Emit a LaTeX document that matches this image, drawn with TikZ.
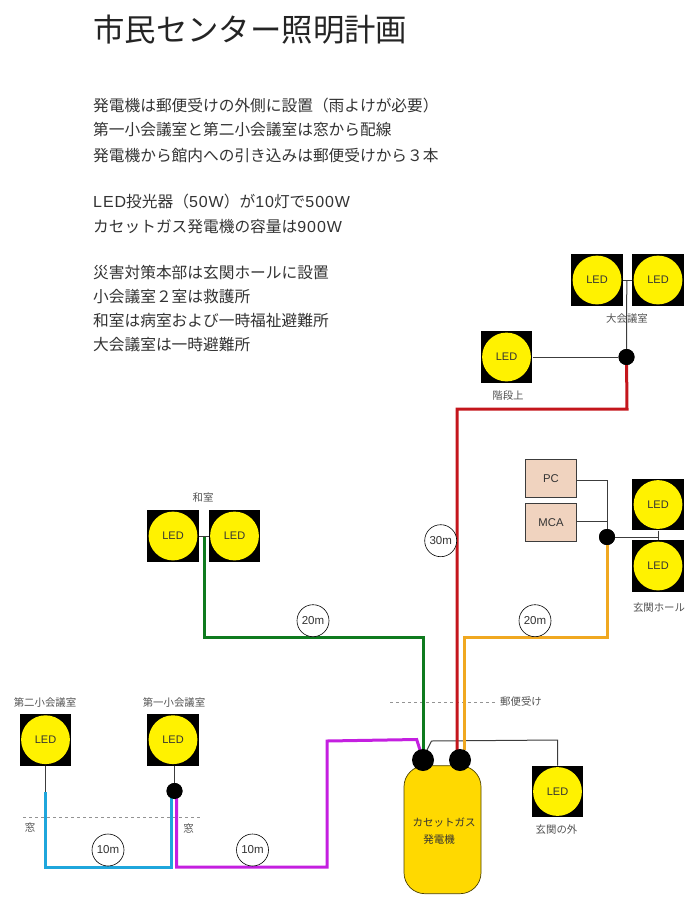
\documentclass[tikz,border=0pt]{standalone}
\usepackage{fontspec}
\setmainfont{Noto Sans CJK JP}
\newfontfamily\latf[LetterSpace=6]{Liberation Sans}
\newfontfamily\latn{Liberation Sans}
\definecolor{txt}{HTML}{333333}
\definecolor{wire}{HTML}{3C3C3C}
\definecolor{cblue}{HTML}{1FA6DC}
\definecolor{cpurple}{HTML}{C41FE0}
\definecolor{cgreen}{HTML}{0E7A1E}
\definecolor{cred}{HTML}{C4161C}
\definecolor{corange}{HTML}{F0A820}
\definecolor{peach}{HTML}{F0D3BF}
\definecolor{gold}{HTML}{FFD900}
\tikzset{
  led/.pic={
    \fill[black] (-25.8,-25.8) rectangle (25.8,25.8);
    \fill[yellow] (0,0) circle (24.4);
    \node[text=txt,font=\latn\fontsize{11}{12}\selectfont] at (0,0) {LED};
  },
  ledbox/.style={minimum size=51.6pt,inner sep=0pt,draw=none},
  body/.style={anchor=west,text=txt,inner sep=0pt,font=\fontsize{15.7}{16}\selectfont},
  small/.style={text=txt!85,inner sep=0pt,font=\fontsize{10.4}{11}\selectfont},
  thin wire/.style={draw=wire,line width=1pt},
  cable/.style={line width=3pt,line join=miter},
  joint/.style={circle,fill=black,minimum size=16pt,inner sep=0pt},
  bigjoint/.style={circle,fill=black,minimum size=22pt,inner sep=0pt},
  dist/.style={circle,draw=black,fill=white,line width=0.6pt,minimum size=32pt,inner sep=0pt,text=txt,font=\latn\fontsize{11.5}{12}\selectfont},
  pcbox/.style={draw=wire,fill=peach,line width=0.7pt,minimum width=51pt,minimum height=38pt,inner sep=0pt,text=txt,font=\latn\fontsize{11.3}{12}\selectfont},
  sep/.style={draw=gray!85,dashed,line width=0.5pt},
}
\newcommand{\lt}[1]{{\latf\fontsize{16}{16}\selectfont #1}}
\begin{document}
\begin{tikzpicture}[x=1pt,y=-1pt]
\useasboundingbox (0,0) rectangle (700,905);
% text
\node[anchor=west,text=txt!70!black,inner sep=0pt,font=\fontsize{31.4}{32}\selectfont] (title) at (93,30) {市民センター照明計画};
\node[body] (t1) at (93,105.5) {発電機は郵便受けの外側に設置（雨よけが必要）};
\node[body] (t2) at (93,129.5) {第一小会議室と第二小会議室は窓から配線};
\node[body] (t3) at (93,155.5) {発電機から館内への引き込みは郵便受けから３本};
\node[body] (t4) at (93,202) {\lt{LED}投光器（\lt{50W}）が\lt{10}灯で\lt{500W}};
\node[body] (t5) at (93,226.5) {カセットガス発電機の容量は\lt{900W}};
\node[body] (t6) at (93,273) {災害対策本部は玄関ホールに設置};
\node[body] (t7) at (93,297) {小会議室２室は救護所};
\node[body] (t8) at (93,321) {和室は病室および一時福祉避難所};
\node[body] (t9) at (93,345) {大会議室は一時避難所};
% LEDs
\foreach \n/\x/\y in {a/45.5/739.7,b/173/739.7,c/173/536,d/234.5/536,e/597/280,f/658/280,g/506.5/357,h/658/504.5,i/658/566,j/557.5/791.5}{
  \node[ledbox] (\n) at (\x,\y) {};
  \pic at (\x,\y) {led};
}
\node[small] (la) at (45,703) {第二小会議室};
\node[small] (lb) at (174,703) {第一小会議室};
\node[small] (lc) at (203,498) {和室};
\node[small] (le) at (627,319) {大会議室};
\node[small] (lg) at (508,396) {階段上};
\node[small] (lh) at (659,608) {玄関ホール};
\node[small] (lj) at (556.5,830) {玄関の外};
\node[small] (w1) at (30,827) {窓};
\node[small] (w2) at (188.5,828) {窓};
\node[small] (post) at (521,702) {郵便受け};
% separators
\coordinate (s1) at (23,817); \coordinate (s2) at (201,817);
\coordinate (s3) at (390,702.5); \coordinate (s4) at (497,702.5);
\draw[sep] (s1) -- (s2);
\draw[sep] (s3) -- (s4);
% generator
\node[draw=black!70!gold,fill=gold,line width=0.7pt,rounded corners=21pt,minimum width=77pt,minimum height=128pt,inner sep=0pt] (gen) at (442.5,829.7) {};
\node[text=txt,inner sep=0pt,font=\fontsize{10.5}{11}\selectfont] (gen1) at (444,823) {カセットガス};
\node[text=txt,inner sep=0pt,font=\fontsize{10.5}{11}\selectfont] (gen2) at (439,840) {発電機};
% pc boxes
\node[pcbox] (pc) at (551,478.5) {PC};
\node[pcbox] (mca) at (551,522.5) {MCA};
% joints
\node[joint] (jb) at (174.5,791) {};
\node[joint] (je) at (626.5,357) {};
\node[joint] (jh) at (607,537) {};
% thin wires
\draw[thin wire] (a.south) -- (45.5,792);
\draw[thin wire] (b.south -| jb) -- (jb);
\draw[thin wire] (c.east) -- (d.west);
\draw[thin wire] (e.east) -- (f.west);
\draw[thin wire] (626.8,280) -- (je);
\draw[thin wire] (g.east) -- (je);
\draw[thin wire] ([yshift=-2pt]pc.east) -- (607,480.5) -- (jh);
\draw[thin wire] ([yshift=1.5pt]mca.east) -- (607,521);
\draw[thin wire] (jh) -- (659,537);
\draw[thin wire] (h.south) -- (i.north);
\draw[thin wire] (427,750) -- (431.5,741) -- (557.5,740) -- (j.north);
% cables
\coordinate (gp) at (420,750);
\draw[cable,cblue] (45.5,792) -- (45.5,867) -- (171,867) -- (171,797);
\draw[cable,cpurple] (176.5,797) -- (176.5,867) -- (327,867) -- (327,741) -- (416.7,739.5) -- (gp);
\draw[cable,cgreen] (204,537) -- (204,637) -- (423,637) -- (423,750);
\draw[cable,cred] (je) -- (627,409) -- (457,409) -- (457,750);
\draw[cable,corange] (jh) -- (607,637) -- (464.3,637) -- (464.3,750);
% redraw joints on top
\node[joint] at (jb) {};
\node[joint] at (je) {};
\node[joint] at (jh) {};
\node[bigjoint] (g1) at (423,760) {};
\node[bigjoint] (g2) at (460,760) {};
% distance labels
\node[dist] (d1) at (108,850) {10m};
\node[dist] (d2) at (252.5,850) {10m};
\node[dist] (d3) at (313,620.7) {20m};
\node[dist] (d4) at (535,620.7) {20m};
\node[dist] (d5) at (440.7,540.7) {30m};
\end{tikzpicture}
\end{document}
